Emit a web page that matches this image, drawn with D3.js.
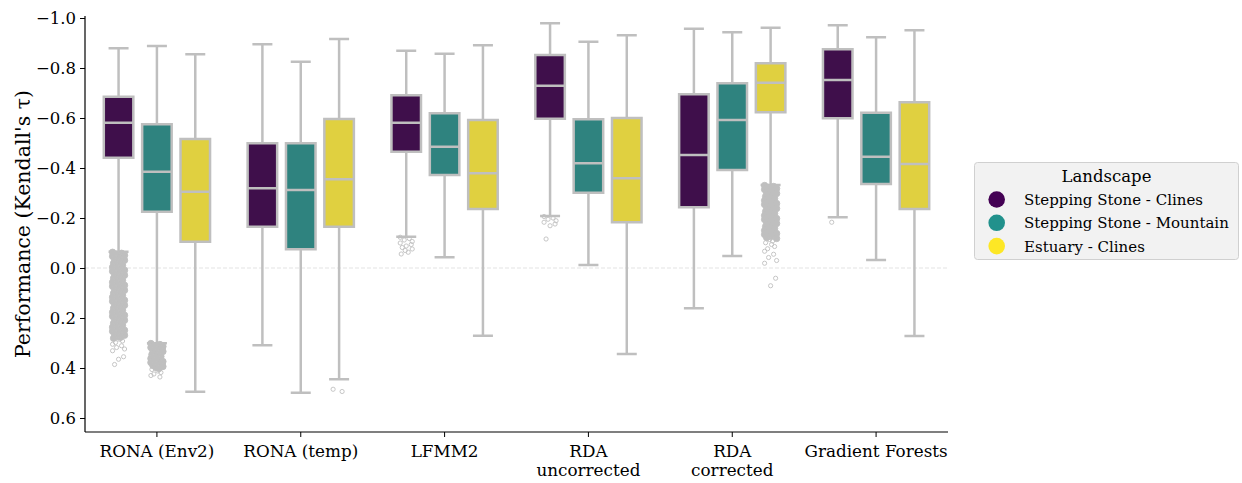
<!DOCTYPE html>
<html>
<head>
<meta charset="utf-8">
<script src="https://cdn.jsdelivr.net/npm/d3@7"></script>
<style>
  html, body { margin: 0; padding: 0; background: #ffffff; }
  svg { display: block; font-family: "DejaVu Serif", serif; }
</style>
</head>
<body>
<svg id="chart" width="1242" height="483"></svg>
<script>
// ---------- data ----------
const categories = ["RONA (Env2)", "RONA (temp)", "LFMM2", "RDA\nuncorrected", "RDA\ncorrected", "Gradient Forests"];
const landscapes = ["Stepping Stone - Clines", "Stepping Stone - Mountain", "Estuary - Clines"];
const yTickValues = [-1.0, -0.8, -0.6, -0.4, -0.2, 0.0, 0.2, 0.4, 0.6];

// Stepping Stone - Clines
const clinesWhiskerLow = [-0.879, -0.895, -0.869, -0.979, -0.957, -0.971];
const clinesQ1         = [-0.685, -0.499, -0.691, -0.852, -0.695, -0.875];
const clinesMedian     = [-0.581, -0.319, -0.581, -0.729, -0.452, -0.752];
const clinesQ3         = [-0.441, -0.165, -0.465, -0.597, -0.243, -0.599];
const clinesWhiskerHigh= [-0.065,  0.309, -0.125, -0.208,  0.161, -0.203];

// Stepping Stone - Mountain
const mountainWhiskerLow = [-0.888, -0.825, -0.857, -0.905, -0.943, -0.923];
const mountainQ1         = [-0.575, -0.499, -0.619, -0.595, -0.739, -0.621];
const mountainMedian     = [-0.385, -0.312, -0.485, -0.419, -0.592, -0.445];
const mountainQ3         = [-0.225, -0.075, -0.372, -0.301, -0.392, -0.336];
const mountainWhiskerHigh= [ 0.301,  0.499, -0.043, -0.012, -0.048, -0.032];

// Estuary - Clines
const estuaryWhiskerLow = [-0.855, -0.916, -0.891, -0.931, -0.961, -0.951];
const estuaryQ1         = [-0.516, -0.596, -0.592, -0.600, -0.819, -0.663];
const estuaryMedian     = [-0.305, -0.355, -0.379, -0.359, -0.741, -0.416];
const estuaryQ3         = [-0.105, -0.165, -0.236, -0.183, -0.623, -0.236];
const estuaryWhiskerHigh= [ 0.495,  0.445,  0.271,  0.344, -0.332,  0.272];

// outliers
const outEnv2Clines = [-0.063,-0.059,-0.055,-0.051,-0.047,-0.043,-0.039,-0.035,-0.031,-0.027,-0.023,-0.019,-0.015,-0.011,-0.007,-0.003,0.001,0.005,0.009,0.013,0.017,0.021,0.025,0.029,0.033,0.037,0.041,0.045,0.049,0.053,0.057,0.061,0.065,0.069,0.073,0.077,0.081,0.085,0.089,0.093,0.097,0.101,0.105,0.109,0.113,0.117,0.121,0.125,0.129,0.133,0.137,0.141,0.145,0.149,0.153,0.157,0.161,0.165,0.169,0.173,0.177,0.181,0.185,0.189,0.193,0.197,0.201,0.205,0.209,0.213,0.217,0.221,0.225,0.229,0.233,0.237,0.241,0.245,0.249,0.253,0.257,0.261,0.265,0.269,0.273,0.277,0.281,0.285,0.292,0.298,0.305,0.311,0.318,0.324,0.331,0.355,0.365,0.386];
const outEnv2Mountain = [0.302,0.306,0.310,0.314,0.318,0.322,0.326,0.330,0.334,0.338,0.342,0.346,0.350,0.354,0.358,0.362,0.366,0.370,0.374,0.378,0.382,0.386,0.390,0.394,0.398,0.402,0.406,0.412,0.418,0.424,0.430,0.436];
const outTempEstuary = [0.485, 0.494];
const outLfmmClines = [-0.123,-0.118,-0.112,-0.106,-0.100,-0.094,-0.088,-0.082,-0.076,-0.070,-0.063,-0.056];
const outRdaUncClines = [-0.206,-0.200,-0.195,-0.189,-0.183,-0.176,-0.169,-0.116];
const outRdaCorEstuary = [-0.330,-0.326,-0.322,-0.318,-0.314,-0.310,-0.306,-0.302,-0.298,-0.294,-0.290,-0.286,-0.282,-0.278,-0.274,-0.270,-0.266,-0.262,-0.258,-0.254,-0.250,-0.246,-0.242,-0.238,-0.234,-0.230,-0.226,-0.222,-0.218,-0.214,-0.210,-0.206,-0.202,-0.198,-0.194,-0.190,-0.186,-0.182,-0.178,-0.174,-0.170,-0.166,-0.162,-0.158,-0.154,-0.150,-0.146,-0.142,-0.138,-0.134,-0.130,-0.126,-0.122,-0.118,-0.114,-0.108,-0.101,-0.094,-0.086,-0.077,-0.067,-0.055,-0.042,-0.030,-0.019,0.041,0.071];
const outGfClines = [-0.183];

// ---------- build series ----------
const series = [
  {name: landscapes[0], lo: clinesWhiskerLow, q1: clinesQ1, med: clinesMedian, q3: clinesQ3, hi: clinesWhiskerHigh},
  {name: landscapes[1], lo: mountainWhiskerLow, q1: mountainQ1, med: mountainMedian, q3: mountainQ3, hi: mountainWhiskerHigh},
  {name: landscapes[2], lo: estuaryWhiskerLow, q1: estuaryQ1, med: estuaryMedian, q3: estuaryQ3, hi: estuaryWhiskerHigh}
];
const outlierSets = [
  {cat: 0, s: 0, values: outEnv2Clines},
  {cat: 0, s: 1, values: outEnv2Mountain},
  {cat: 1, s: 2, values: outTempEstuary},
  {cat: 2, s: 0, values: outLfmmClines},
  {cat: 3, s: 0, values: outRdaUncClines},
  {cat: 4, s: 2, values: outRdaCorEstuary},
  {cat: 5, s: 0, values: outGfClines}
];

const legendColors = ["#440154", "#21918c", "#fde725"];
const boxColors = ["#3f0f4b", "#2f837f", "#e0d040"];
const lineColor = "#bfbfbf";
const jitter = [-6, 3, -2, 6, -6, 5, 0, -4, 6, -1, 2, -5, 1, 4, -3];
const denseGap = 0.0045;

// ---------- layout ----------
const svg = d3.select("#chart");
const mLeft = 85, mRight = 948, mTop = 16, mBottom = 432;

const x = d3.scaleBand().domain(categories).range([mLeft, mRight]).paddingInner(0).paddingOuter(0);
const xs = d3.scaleBand().domain(landscapes).range([x.bandwidth() * 0.1, x.bandwidth() * 0.9]);
const y = d3.scaleLinear().domain([-1.008, 0.656]).range([mTop, mBottom]);

const boxW = xs.bandwidth() * 0.77;
const capW = 20;

// zero dashed line
svg.append("line")
  .attr("x1", mLeft).attr("x2", mRight)
  .attr("y1", y(0)).attr("y2", y(0))
  .attr("stroke", "#dcdcdc").attr("stroke-width", 0.8)
  .attr("stroke-dasharray", "4,2");

// boxes
const g = svg.append("g");
series.forEach((s, si) => {
  categories.forEach((c, ci) => {
    const cx = x(c) + xs(s.name) + xs.bandwidth() / 2;
    const gg = g.append("g");
    gg.append("line").attr("x1", cx).attr("x2", cx).attr("y1", y(s.lo[ci])).attr("y2", y(s.q1[ci]))
      .attr("stroke", lineColor).attr("stroke-width", 2.5);
    gg.append("line").attr("x1", cx).attr("x2", cx).attr("y1", y(s.q3[ci])).attr("y2", y(s.hi[ci]))
      .attr("stroke", lineColor).attr("stroke-width", 2.5);
    gg.append("line").attr("x1", cx - capW / 2).attr("x2", cx + capW / 2).attr("y1", y(s.lo[ci])).attr("y2", y(s.lo[ci]))
      .attr("stroke", lineColor).attr("stroke-width", 2.5);
    gg.append("line").attr("x1", cx - capW / 2).attr("x2", cx + capW / 2).attr("y1", y(s.hi[ci])).attr("y2", y(s.hi[ci]))
      .attr("stroke", lineColor).attr("stroke-width", 2.5);
    gg.append("rect")
      .attr("x", cx - boxW / 2).attr("width", boxW)
      .attr("y", y(s.q1[ci])).attr("height", y(s.q3[ci]) - y(s.q1[ci]))
      .attr("fill", boxColors[si]).attr("stroke", lineColor).attr("stroke-width", 2.5);
    gg.append("line").attr("x1", cx - boxW / 2).attr("x2", cx + boxW / 2)
      .attr("y1", y(s.med[ci])).attr("y2", y(s.med[ci]))
      .attr("stroke", lineColor).attr("stroke-width", 2.5);
  });
});

// outliers: points packed densely overlap into a solid cloud
function isDense(vals, i) {
  const prev = i > 0 ? Math.abs(vals[i] - vals[i - 1]) : null;
  const next = i < vals.length - 1 ? Math.abs(vals[i + 1] - vals[i]) : null;
  if (prev === null && next === null) return false;
  return (prev === null || prev <= denseGap + 1e-9) && (next === null || next <= denseGap + 1e-9);
}
outlierSets.forEach(o => {
  const cx = x(categories[o.cat]) + xs(landscapes[o.s]) + xs.bandwidth() / 2;
  g.append("g").selectAll("circle").data(o.values).join("circle")
    .attr("cx", (d, i) => cx + jitter[i % jitter.length])
    .attr("cy", d => y(d))
    .attr("r", (d, i) => isDense(o.values, i) ? 3.2 : 2.1)
    .attr("fill", (d, i) => isDense(o.values, i) ? lineColor : "none")
    .attr("stroke", lineColor)
    .attr("stroke-width", 0.9);
});

// axes
const yAxis = d3.axisLeft(y).tickValues(yTickValues).tickSize(5).tickPadding(4)
  .tickFormat(d => d3.format(".1f")(d));
const yg = svg.append("g").attr("transform", `translate(${mLeft},0)`).call(yAxis);
yg.select(".domain").attr("d", `M0,${mTop}V${mBottom}`).attr("stroke", "#000").attr("stroke-width", 1.2);
yg.selectAll(".tick line").attr("stroke", "#000").attr("stroke-width", 1);
yg.selectAll(".tick text").attr("font-family", "DejaVu Serif").attr("font-size", 16.5).attr("fill", "#000");

const xAxis = d3.axisBottom(x).tickSize(5).tickPadding(5).tickFormat("");
const xg = svg.append("g").attr("transform", `translate(0,${mBottom})`).call(xAxis);
xg.select(".domain").attr("d", `M${mLeft},0H${mRight}`).attr("stroke", "#000").attr("stroke-width", 1.2);
xg.selectAll(".tick line").attr("stroke", "#000").attr("stroke-width", 1);
xg.selectAll(".tick").each(function(d) {
  const t = d3.select(this).append("text")
    .attr("text-anchor", "middle")
    .attr("font-family", "DejaVu Serif")
    .attr("font-size", 16.8)
    .attr("fill", "#000");
  d.split("\n").forEach((line, i) => {
    t.append("tspan").attr("x", 0).attr("y", 25 + i * 19).text(line);
  });
});

// y label
svg.append("text")
  .attr("transform", `translate(30,${(mTop + mBottom) / 2}) rotate(-90)`)
  .attr("text-anchor", "middle")
  .attr("font-size", 20.5)
  .attr("fill", "#000")
  .text("Performance (Kendall's τ)");

// legend
const lg = svg.append("g");
lg.append("rect").attr("x", 974.5).attr("y", 162.5).attr("width", 264).attr("height", 97)
  .attr("rx", 3).attr("fill", "#f2f2f2").attr("stroke", "#d0d0d0").attr("stroke-width", 1);
lg.append("text").attr("x", 1106.5).attr("y", 182).attr("text-anchor", "middle")
  .attr("font-size", 16.5).attr("fill", "#000").text("Landscape");
landscapes.forEach((name, i) => {
  const cy = 199.5 + i * 23.3;
  lg.append("circle").attr("cx", 996.7).attr("cy", cy).attr("r", 8.3).attr("fill", legendColors[i]);
  lg.append("text").attr("x", 1024).attr("y", cy + 5.5).attr("font-size", 15).attr("fill", "#000").text(name);
});
</script>
</body>
</html>
